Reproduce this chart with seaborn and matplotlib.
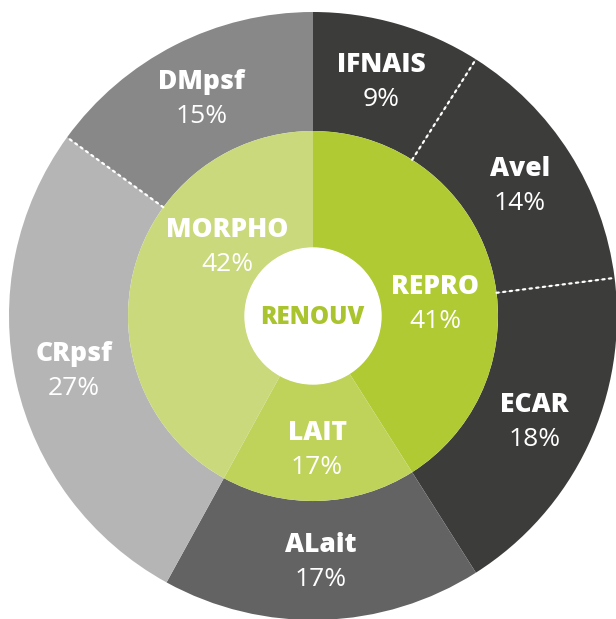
import numpy as np
import matplotlib
matplotlib.use("Agg")
import matplotlib.pyplot as plt
import seaborn as sns

# ---- data ----
outer_labels = ["IFNAIS", "Avel", "ECAR", "ALait", "CRpsf", "DMpsf"]
outer_values = [9, 14, 18, 17, 27, 15]
outer_colors = ["#3c3c3b", "#3c3c3b", "#3c3c3b", "#636363", "#b5b5b5", "#888888"]
inner_labels = ["REPRO", "LAIT", "MORPHO"]
inner_values = [41, 17, 42]
inner_colors = ["#b0ca33", "#bfd35b", "#c9d97b"]
center_label = "RENOUV"
# dotted white separators after these outer segments (index of segment ending)
dotted_after = [0, 1, 4]

sns.set_theme(style="white")
plt.rcParams["font.family"] = ["Open Sans", "DejaVu Sans"]

W, H = 616, 619
fig = plt.figure(figsize=(W / 100, H / 100), dpi=100)
ax = fig.add_axes([0, 0, 1, 1])

cx, cy = 313, H - 316
R_out, R_mid, R_in = 304, 185, 68

wedges_o, _ = ax.pie(outer_values, colors=outer_colors, startangle=90,
                     counterclock=False, radius=R_out, center=(cx, cy),
                     wedgeprops=dict(width=R_out - R_mid, linewidth=0))
wedges_i, _ = ax.pie(inner_values, colors=inner_colors, startangle=90,
                     counterclock=False, radius=R_mid, center=(cx, cy),
                     wedgeprops=dict(width=R_mid - R_in, linewidth=0))
ax.add_patch(plt.Circle((cx, cy), R_in, color="white", zorder=3))

# dotted separators
for i in dotted_after:
    th = np.deg2rad(wedges_o[i].theta1)
    ax.plot([cx + R_mid * np.cos(th), cx + R_out * np.cos(th)],
            [cy + R_mid * np.sin(th), cy + R_out * np.sin(th)],
            color="white", linestyle=(0, (1, 2)), linewidth=1.6, zorder=4,
            solid_capstyle="round", dash_capstyle="round")

fs = 19
def two_line(x, y, name, val):
    ax.text(x, y + 8.5, name, ha="center", va="baseline", color="white",
            fontsize=fs, fontweight="heavy", zorder=5)
    ax.text(x, y - 25.5, f"{val}%", ha="center", va="baseline", color="white",
            fontsize=fs, zorder=5)

# outer labels along mid angle
r_lab = 245
for w, name, val in zip(wedges_o, outer_labels, outer_values):
    th = np.deg2rad((w.theta1 + w.theta2) / 2)
    two_line(cx + r_lab * np.cos(th), cy + r_lab * np.sin(th), name, val)

# inner labels (placement offsets from centre)
inner_offsets = {"REPRO": (122, 14), "LAIT": (4, -132.5), "MORPHO": (-86, 70.5)}
for name, val in zip(inner_labels, inner_values):
    dx, dy = inner_offsets[name]
    two_line(cx + dx, cy + dy, name, val)

ax.text(cx - 1, cy - 1, center_label, ha="center", va="center",
        color="#a9c42e", fontsize=17.5, fontweight="heavy", zorder=5)

ax.set_xlim(0, W)
ax.set_ylim(0, H)
ax.set_aspect("auto")
ax.axis("off")
fig.savefig("out.png", dpi=100, facecolor="white")
